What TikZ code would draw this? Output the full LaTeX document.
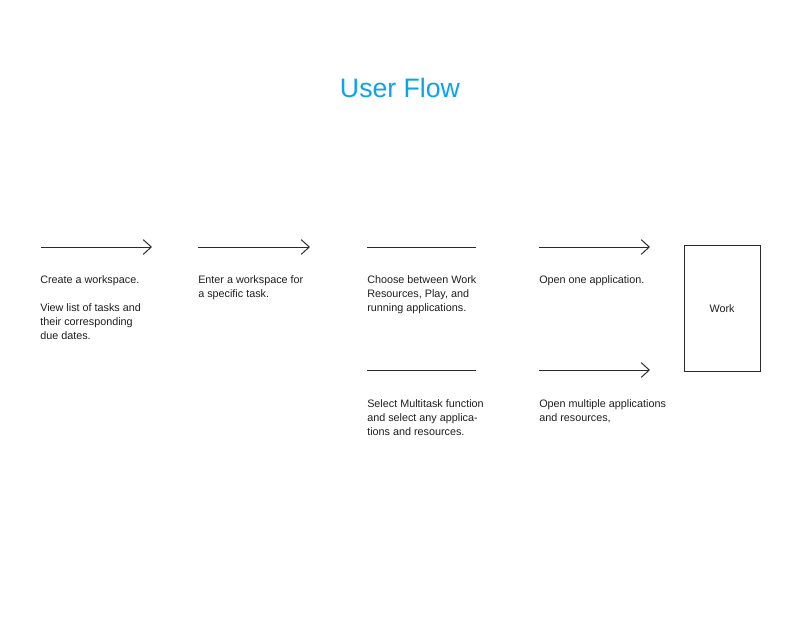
\documentclass[tikz,border=0pt]{standalone}
\usepackage{fontspec}
\setmainfont{Liberation Sans}
\usepackage{xcolor}
\usepackage{tikz}
\usetikzlibrary{
  arrows.meta,
  positioning
}
\definecolor{ufTitle}{HTML}{0BA3EC}
\definecolor{ufLine}{HTML}{2B2B2B}
\definecolor{ufText}{HTML}{1E1E1E}
\tikzset{
  uftitle/.style={font=\fontsize{20}{24}\selectfont, text=ufTitle, inner sep=0pt},
  ufnote/.style={
    anchor=north west, align=left, inner sep=0pt, text=ufText,
    font=\fontsize{8.1}{10.5}\selectfont
  },
  ufstep/.style={-{Straight Barb[length=6pt, width=11pt]}, ufLine, line width=0.75pt},
  ufrule/.style={ufLine, line width=0.75pt},
  ufscreen/.style={draw=ufLine, line width=0.75pt, minimum width=57pt, minimum height=94pt,
    font=\fontsize{8.1}{10.5}\selectfont, text=ufText}
}

\begin{document}
\begin{tikzpicture}[x=0.75pt, y=-0.75pt]
  \useasboundingbox (0,0) rectangle (800,618);
  \node[uftitle] (title) at (400,88) {User Flow};
  % row 1
  \coordinate (a1) at (41,247);  \coordinate (b1) at (152,247);
  \coordinate (a2) at (198,247); \coordinate (b2) at (310,247);
  \coordinate (a3) at (367,247); \coordinate (b3) at (476,247);
  \coordinate (a4) at (539,247); \coordinate (b4) at (650,247);
  % row 2
  \coordinate (a5) at (367,370); \coordinate (b5) at (476,370);
  \coordinate (a6) at (539,370); \coordinate (b6) at (650,370);
  \draw[ufstep] (a1) -- (b1);
  \draw[ufstep] (a2) -- (b2);
  \draw[ufrule] (a3) -- (b3);
  \draw[ufstep] (a4) -- (b4);
  \draw[ufrule] (a5) -- (b5);
  \draw[ufstep] (a6) -- (b6);
  \node[ufscreen] (work) at (722,308.5) {\raisebox{-2pt}{Work}};
  \node[ufnote] (create) at (40,275) {Create a workspace.\\[10.5pt]View list of tasks and\\their corresponding\\due dates.};
  \node[ufnote] (enter) at (198,275) {Enter a workspace for\\a specific task.};
  \node[ufnote] (choose) at (367,275) {Choose between Work\\Resources, Play, and\\running applications.};
  \node[ufnote] (openone) at (539,275) {Open one application.};
  \node[ufnote] (multi) at (367,399) {Select Multitask function\\and select any applica-\\tions and resources.};
  \node[ufnote] (openmany) at (539,399) {Open multiple applications\\and resources,};
\end{tikzpicture}
\end{document}
